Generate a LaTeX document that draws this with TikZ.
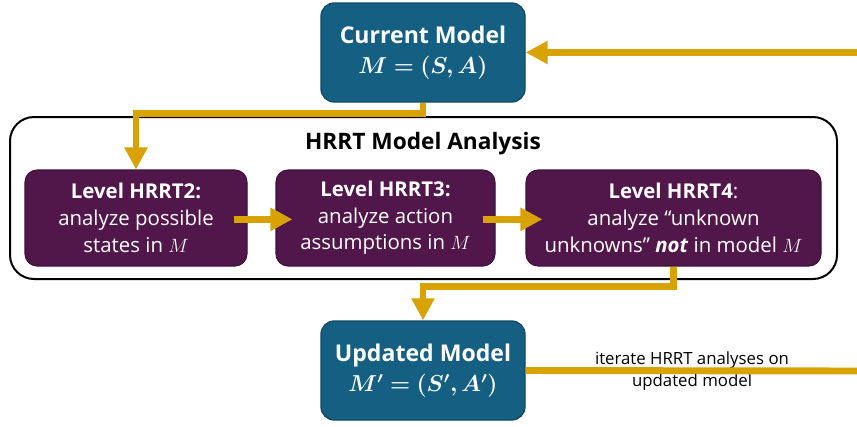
\documentclass[tikz,border=0pt]{standalone}
\usepackage{bm}
\usepackage{fontspec}
\setmainfont{Open Sans}
\usetikzlibrary{arrows.meta,calc}
\definecolor{modelblue}{HTML}{156082}
\definecolor{modelblueb}{HTML}{0F4A66}
\definecolor{levelpurple}{HTML}{52174A}
\definecolor{levelpurpleb}{HTML}{3E1038}
\definecolor{gold}{HTML}{D8A300}
\begin{document}
\begin{tikzpicture}[x=0.75pt,y=-0.75pt,
  modelbox/.style={draw=modelblueb, line width=1pt, fill=modelblue, rounded corners=10pt,
    text=white, align=center, minimum width=153pt, minimum height=74.25pt,
    font=\fontsize{17.3}{23}\selectfont\bfseries, inner sep=0pt},
  levelbox/.style={draw=levelpurpleb, line width=0.8pt, fill=levelpurple, rounded corners=9pt,
    text=white, align=center, minimum height=72pt,
    font=\fontsize{15.3}{20}\selectfont, inner sep=0pt},
  outerbox/.style={draw=black, line width=1.5pt, rounded corners=18pt,
    minimum width=620.25pt, minimum height=121.5pt, inner sep=0pt},
  goldline/.style={draw=gold, line width=5.2pt},
  goldarrow/.style={goldline, -{Triangle[length=16.5pt,width=16.5pt]}},
  labeltext/.style={align=center, font=\fontsize{12.6}{16.5}\selectfont, inner sep=0pt}
]
\useasboundingbox (0,0) rectangle (857,426);

\node[outerbox] (outer) at (423.5,198) {};
\node[font=\fontsize{17}{20}\selectfont\bfseries] (title) at (423,144) {HRRT Model Analysis};

\node[modelbox] (cur) at (423,52.5) {Current Model\\$\bm{M=(S,A)}$};
\node[modelbox] (upd) at (423,370.5) {Updated Model\\$\bm{M'=(S',A')}$};

\node[levelbox, minimum width=166.5pt] (h2) at (136,218)
  {\textbf{Level HRRT2:}\\analyze possible\\states in $M$};
\node[levelbox, minimum width=164.25pt] (h3) at (385.5,218)
  {\textbf{Level HRRT3:}\\analyze action\\assumptions in $M$};
\node[levelbox, minimum width=221.25pt] (h4) at (673.5,218)
  {\textbf{Level HRRT4}:\\analyze “unknown\\unknowns” \textbf{\textit{not}} in model $M$};

\coordinate (k1) at (423,113.5);
\coordinate (k2) at (0,286.5);
\coordinate (rtop) at (857,52.5);
\coordinate (rbot) at (857,371);

\draw[goldarrow] (cur.south) -- (k1) -| (h2.north);
\draw[goldarrow] ([xshift=-10.5pt,yshift=-1pt]h2.east) -- ([xshift=12.75pt,yshift=-1pt]h3.west);
\draw[goldarrow] ([xshift=-9.75pt,yshift=-1pt]h3.east) -- ([xshift=12.75pt,yshift=-1pt]h4.west);
\draw[goldarrow] (h4.south) -- (h4.south |- k2) -| (upd.north);

\node[labeltext] (lab) at (692,371) {iterate HRRT analyses on\\updated model};
\draw[goldline] (upd.east) -- (rbot);
\draw[goldarrow] (rtop) -- (cur.east);
\end{tikzpicture}
\end{document}
